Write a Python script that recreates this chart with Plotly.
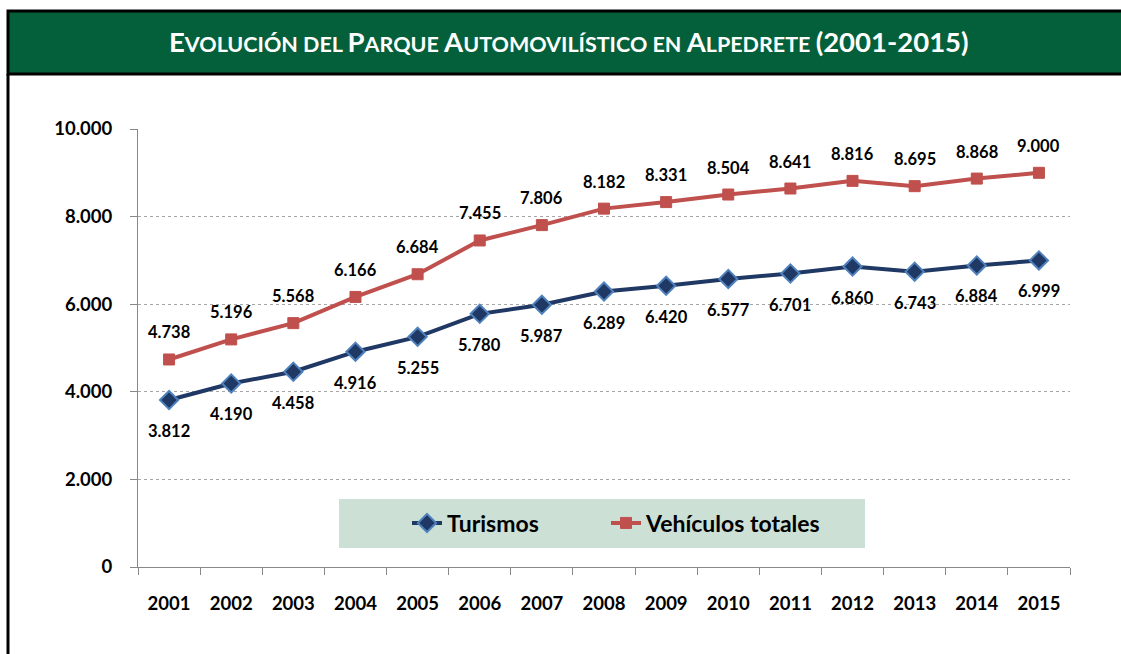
import plotly.graph_objects as go

years = [str(y) for y in range(2001, 2016)]
turismos = [3812, 4190, 4458, 4916, 5255, 5780, 5987, 6289, 6420, 6577, 6701, 6860, 6743, 6884, 6999]
vehiculos = [4738, 5196, 5568, 6166, 6684, 7455, 7806, 8182, 8331, 8504, 8641, 8816, 8695, 8868, 9000]
y_ticks = [0, 2000, 4000, 6000, 8000, 10000]
series_names = ["Turismos", "Vehículos totales"]

W, H = 1121, 654
ML, MR, MT, MB = 138, 51, 129, 87
PW, PH = W - ML - MR, H - MT - MB

def px(x):
    return (x - ML) / PW

def py(y):
    return (H - MB - y) / PH

FONT = "Lato, 'Open Sans', sans-serif"
RED = "#C0504D"
NAVY = "#1F3864"
LBLUE = "#4F81BD"

def fmt(v):
    return f"{v:,}".replace(",", ".")

fig = go.Figure()
fig.add_trace(go.Scatter(
    x=years, y=turismos, name=series_names[0], mode="lines+markers", legend="legend",
    line=dict(color=NAVY, width=4),
    marker=dict(symbol="diamond", size=14, color=NAVY, line=dict(color=LBLUE, width=2)),
))
fig.add_trace(go.Scatter(
    x=years, y=vehiculos, name=series_names[1], mode="lines+markers", legend="legend2",
    line=dict(color=RED, width=4),
    marker=dict(symbol="square", size=11, color=RED, line=dict(color=RED, width=1)),
))

annotations = []
for i, v in enumerate(vehiculos):
    annotations.append(dict(x=i, y=v, xref="x", yref="y", text=f"<b>{fmt(v)}</b>",
                            showarrow=False, yshift=27, font=dict(family=FONT, size=16.5, color="#000")))
for i, v in enumerate(turismos):
    annotations.append(dict(x=i, y=v, xref="x", yref="y", text=f"<b>{fmt(v)}</b>",
                            showarrow=False, yshift=-31, font=dict(family=FONT, size=16.5, color="#000")))

def sc(big, small):
    return f"{big}<span style='font-size:21.5px'>{small}</span>"

title = ("<b>" + sc("E", "VOLUCIÓN DEL ") + sc("P", "ARQUE ") + sc("A", "UTOMOVILÍSTICO EN ")
         + sc("A", "LPEDRETE ") + "(2001-2015)</b>")
annotations.append(dict(x=px(569), y=py(41), xref="paper", yref="paper", text=title,
                        showarrow=False, xanchor="center", yanchor="middle",
                        font=dict(family=FONT, size=27.5, color="white")))

shapes = [
    dict(type="rect", xref="paper", yref="paper", x0=px(8), x1=px(1135), y0=py(74), y1=py(11),
         fillcolor="#04603A", line=dict(color="black", width=3), layer="above"),
    dict(type="line", xref="paper", yref="paper", x0=px(8), x1=px(8), y0=py(74), y1=py(660),
         line=dict(color="black", width=3)),
    dict(type="rect", xref="paper", yref="paper", x0=px(339), x1=px(865), y0=py(548), y1=py(499),
         fillcolor="#CCE0D6", line=dict(width=0), layer="below"),
]

legend_font = dict(family=FONT, size=23, color="#000", weight="bold")
fig.update_layout(
    width=W, height=H,
    margin=dict(l=ML, r=MR, t=MT, b=MB, pad=0),
    paper_bgcolor="white", plot_bgcolor="rgba(0,0,0,0)",
    separators=",.",
    font=dict(family=FONT, size=16, color="#000"),
    showlegend=True,
    legend=dict(orientation="h", x=px(407), y=py(523), xanchor="left", yanchor="middle",
                bgcolor="rgba(0,0,0,0)", font=legend_font),
    legend2=dict(orientation="h", x=px(606), y=py(523), xanchor="left", yanchor="middle",
                 bgcolor="rgba(0,0,0,0)", font=legend_font),
    annotations=annotations,
    shapes=shapes,
)
fig.update_xaxes(
    type="category", tickson="boundaries", ticks="outside", ticklen=7, tickcolor="#888",
    showline=True, linecolor="#888", linewidth=1, showgrid=False,
    tickfont=dict(family=FONT, size=18.5, color="#000", weight="bold"),
    ticklabelstandoff=20, range=[-0.5, len(years) - 0.5],
)
fig.update_yaxes(
    range=[0, 10000], tickvals=y_ticks, tickformat=",d", ticks="outside", ticklen=7, tickcolor="#888",
    showline=True, linecolor="#888", linewidth=1,
    showgrid=True, gridcolor="#A6A6A6", griddash="dot", gridwidth=1, zeroline=False,
    tickfont=dict(family=FONT, size=18.5, color="#000", weight="bold"),
    ticklabelstandoff=14,
)

fig.write_html("out.html", config={"displayModeBar": False},
               post_script="document.body.style.margin='0';")
